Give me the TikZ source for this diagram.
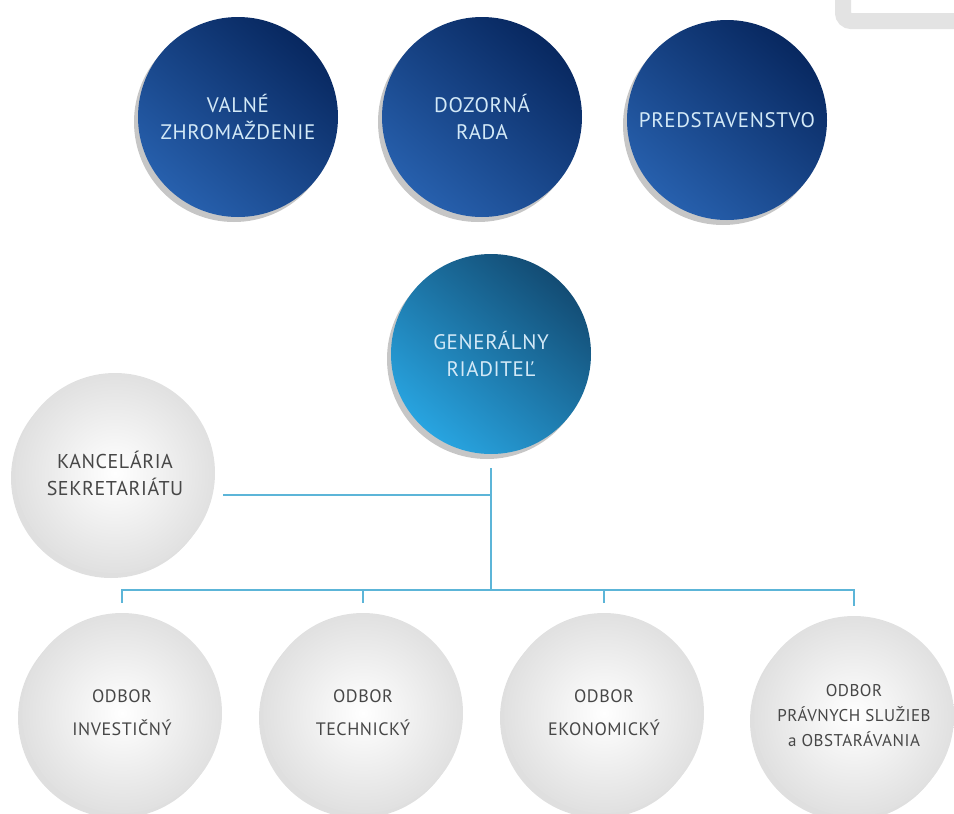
\documentclass[tikz,border=0pt]{standalone}
\usepackage{fontspec}
\setmainfont{PT Sans}[LetterSpace=3]
\usetikzlibrary{shadows}
\definecolor{navy}{HTML}{082860}
\definecolor{royal}{HTML}{1452A6}
\definecolor{deepsea}{HTML}{134C74}
\definecolor{sky}{HTML}{28A4E0}
\definecolor{ice}{HTML}{D3E9F7}
\definecolor{linkc}{HTML}{5CB5D8}
\definecolor{ink}{HTML}{474747}
\tikzset{
  disc/.style={circle, minimum size=200pt, inner sep=0pt, align=center},
  board/.style={disc, top color=navy, middle color=royal, bottom color=royal!92!white,
    shading angle=-40, text=ice, font=\fontsize{21}{27}\selectfont,
    drop shadow={shadow xshift=-4pt, shadow yshift=-5pt, opacity=.45}},
  chief/.style={disc, top color=deepsea, bottom color=sky, shading angle=-40,
    text=ice, font=\fontsize{21}{27}\selectfont,
    drop shadow={shadow xshift=-4pt, shadow yshift=-5pt, opacity=.45}},
  plate/.style={disc, inner color=white, outer color=gray!24, text=ink,
    font=\fontsize{18}{25}\selectfont,
    drop shadow={shadow xshift=-4pt, shadow yshift=-5pt, opacity=.25}},
  link/.style={draw=linkc, line width=1.6pt}
}

\begin{document}
\begin{tikzpicture}[x=1pt,y=-1pt]
\useasboundingbox (0,0) rectangle (954,814);
\clip (0,0) rectangle (954,814);
\draw[line width=16pt, gray!22, rounded corners=8pt] (843,-40) rectangle (1000,21);
\node[board] (valne) at (238,117) {VALNÉ\\ZHROMAŽDENIE};
\node[board] (dozor) at (482,117) {DOZORNÁ\\RADA};
\node[board] (pred) at (727,120) {PREDSTAVENSTVO};
\node[chief] (gr) at (491,354) {GENERÁLNY\\RIADITEĽ};
\node[plate, font=\fontsize{20}{27}\selectfont] (kanc) at (115,473) {KANCELÁRIA\\SEKRETARIÁTU};
\node[plate] (inv) at (122,713) {ODBOR\\[8pt]INVESTIČNÝ};
\node[plate] (tech) at (363,713) {ODBOR\\[8pt]TECHNICKÝ};
\node[plate] (eko) at (604,713) {ODBOR\\[8pt]EKONOMICKÝ};
\node[plate, font=\fontsize{17}{25}\selectfont] (prav) at (854,716) {ODBOR\\PRÁVNYCH SLUŽIEB\\a OBSTARÁVANIA};
\coordinate (kj) at (491,495);
\coordinate (bus) at (491,590);
\draw[link] ([yshift=-14pt]gr.south) -- (bus);
\draw[link] ([xshift=8pt]kanc.east |- kj) -- (kj);
\draw[link] ([yshift=10pt]inv.north) |- (bus) -| ([yshift=10pt]prav.north);
\draw[link] ([yshift=10pt]tech.north) -- (tech.north |- bus);
\draw[link] ([yshift=10pt]eko.north) -- (eko.north |- bus);
\end{tikzpicture}
\end{document}
